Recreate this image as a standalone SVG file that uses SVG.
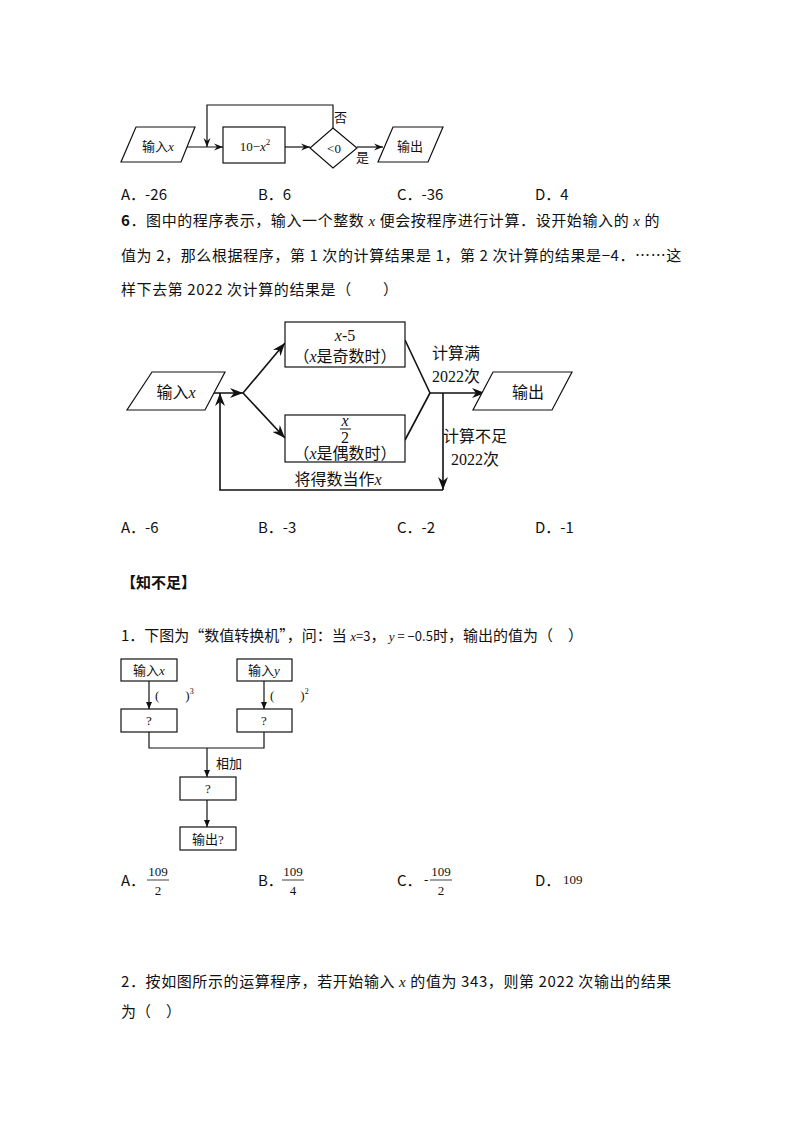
<svg xmlns="http://www.w3.org/2000/svg" width="794" height="1123" viewBox="0 0 794 1123">
<defs>
<style>
.t{font-family:"Noto Sans CJK SC","Liberation Sans",sans-serif;font-size:15px;fill:#111}
.w{letter-spacing:0.6px}
.b{font-weight:bold}
.d{font-family:"Liberation Serif","Noto Sans CJK SC",serif;font-size:16px;fill:#111}
.s{font-family:"Liberation Serif","Noto Sans CJK SC",serif;font-size:13px;fill:#111}
.i{font-style:italic}
.sh{fill:#fff;stroke:#111;stroke-width:1.2}
.ln{fill:none;stroke:#111;stroke-width:1.2}
.ln2{fill:none;stroke:#111;stroke-width:1.6}
</style>
<marker id="a" markerWidth="10" markerHeight="8" refX="9" refY="4" orient="auto" markerUnits="userSpaceOnUse"><path d="M0,0.5 L9,4 L0,7.5 L3,4 Z" fill="#111"/></marker>
<marker id="a2" markerWidth="14" markerHeight="10" refX="13" refY="5" orient="auto" markerUnits="userSpaceOnUse"><path d="M0,0 L13,5 L0,10 L4,5 Z" fill="#111"/></marker>
<marker id="a3" markerWidth="8" markerHeight="8" refX="7" refY="4" orient="auto" markerUnits="userSpaceOnUse"><path d="M0,1 L7,4 L0,7 Z" fill="#111"/></marker>
</defs>
<rect width="794" height="1123" fill="#fff"/>

<!-- diagram 1 -->
<g id="d1-connectors">
<line class="ln" x1="181" y1="147" x2="223" y2="147" marker-end="url(#a)"/>
<line class="ln" x1="285" y1="147" x2="310" y2="147" marker-end="url(#a)"/>
<line class="ln" x1="357" y1="147" x2="383" y2="147" marker-end="url(#a)"/>
<polyline class="ln" points="333,128 333,105 207,105 207,147" marker-end="url(#a)"/>
<text class="s" x="334" y="122" font-size="15">否</text>
<text class="s" x="356" y="162" font-size="15">是</text>
</g>
<g id="d1-in"><polygon class="sh" points="136,127 195,127 181,162 121,162"/><text class="s" x="158" y="151" font-size="15" text-anchor="middle">输入<tspan class="i">x</tspan></text></g>
<g id="d1-calc"><rect class="sh" x="223" y="127" width="62" height="36"/><text class="s" x="255" y="151" font-size="15" text-anchor="middle">10−<tspan class="i">x</tspan><tspan font-size="9" dy="-6">2</tspan></text></g>
<g id="d1-dec"><polygon class="sh" points="333,128 357,148 333,168 310,148"/><text class="s" x="334" y="153" font-size="15" text-anchor="middle">&lt;0</text></g>
<g id="d1-out"><polygon class="sh" points="393,127 443,127 428,162 378,162"/><text class="s" x="410" y="151" font-size="15" text-anchor="middle">输出</text></g>

<text class="t" x="121" y="200">A．-26</text>
<text class="t" x="258" y="200">B．6</text>
<text class="t" x="397" y="200">C．-36</text>
<text class="t" x="535" y="200">D．4</text>

<text class="t w" x="121" y="226"><tspan class="b">6</tspan>．图中的程序表示，输入一个整数 <tspan font-family="Liberation Serif" font-style="italic">x</tspan> 便会按程序进行计算．设开始输入的 <tspan font-family="Liberation Serif" font-style="italic">x</tspan> 的</text>
<text class="t w" x="121" y="261">值为 2，那么根据程序，第 1 次的计算结果是 1，第 2 次计算的结果是−4．……这</text>
<text class="t w" x="121" y="295">样下去第 2022 次计算的结果是（　　）</text>

<!-- diagram 2 -->
<g id="d2-connectors">
<line class="ln2" x1="205" y1="393" x2="243" y2="393" marker-end="url(#a2)"/>
<line class="ln2" x1="243" y1="393" x2="285" y2="343" marker-end="url(#a2)"/>
<line class="ln2" x1="243" y1="393" x2="285" y2="438" marker-end="url(#a2)"/>
<line class="ln2" x1="405" y1="340" x2="430" y2="393"/>
<line class="ln2" x1="405" y1="440" x2="430" y2="393"/>
<line class="ln2" x1="430" y1="393" x2="485" y2="393" marker-end="url(#a2)"/>
<line class="ln2" x1="443" y1="393" x2="443" y2="490" marker-end="url(#a2)"/>
<polyline class="ln2" points="443,490 220,490 220,393" marker-end="url(#a2)"/>
<text class="d" x="456" y="359" text-anchor="middle">计算满</text>
<text class="d" x="456" y="382" text-anchor="middle">2022次</text>
<text class="d" x="475" y="442" text-anchor="middle">计算不足</text>
<text class="d" x="475" y="465" text-anchor="middle">2022次</text>
<text class="d" x="338" y="485" text-anchor="middle">将得数当作<tspan class="i">x</tspan></text>
</g>
<g id="d2-in"><polygon class="sh" points="152,372 225,372 205,410 127,410"/><text class="d" x="176" y="398" text-anchor="middle">输入<tspan class="i">x</tspan></text></g>
<g id="d2-odd"><rect class="sh" x="285" y="322" width="120" height="45"/><text class="d" x="345" y="341" text-anchor="middle"><tspan class="i">x</tspan>-5</text><text class="d" x="345" y="362" text-anchor="middle">（<tspan class="i">x</tspan>是奇数时）</text></g>
<g id="d2-even"><rect class="sh" x="285" y="415" width="120" height="47"/><text class="d" x="345" y="426" text-anchor="middle" font-style="italic">x</text><line x1="340" y1="429" x2="351" y2="429" stroke="#111" stroke-width="1"/><text class="d" x="345" y="443" text-anchor="middle">2</text><text class="d" x="345" y="459" text-anchor="middle">（<tspan class="i">x</tspan>是偶数时）</text></g>
<g id="d2-out"><polygon class="sh" points="493,372 572,372 552,410 473,410"/><text class="d" x="528" y="398" text-anchor="middle">输出</text></g>

<text class="t" x="121" y="533">A．-6</text>
<text class="t" x="258" y="533">B．-3</text>
<text class="t" x="397" y="533">C．-2</text>
<text class="t" x="535" y="533">D．-1</text>

<text class="t b" x="121" y="588" font-size="18">【知不足】</text>

<text class="t" x="121" y="641">1．下图为“数值转换机”，问：当 <tspan font-family="Liberation Serif" font-style="italic" font-size="13">x</tspan><tspan font-size="13">=3</tspan>， <tspan font-family="Liberation Serif" font-style="italic" font-size="13">y</tspan><tspan font-size="13"> = −0.5</tspan>时，输出的值为（　）</text>

<!-- diagram 3 -->
<g id="d3-connectors">
<line class="ln" x1="149" y1="681" x2="149" y2="709" marker-end="url(#a3)"/>
<line class="ln" x1="264" y1="681" x2="264" y2="709" marker-end="url(#a3)"/>
<polyline class="ln" points="149,732 149,748 264,748 264,732"/>
<line class="ln" x1="207" y1="748" x2="207" y2="777" marker-end="url(#a3)"/>
<line class="ln" x1="207" y1="800" x2="207" y2="827" marker-end="url(#a3)"/>
<text class="s" x="155" y="700">(　　)<tspan font-size="8" dy="-6">3</tspan></text>
<text class="s" x="270" y="700">(　　)<tspan font-size="8" dy="-6">2</tspan></text>
<text class="s" x="216" y="768">相加</text>
</g>
<g id="d3-inx"><rect class="sh" x="121" y="659" width="56" height="22"/><text class="s" x="149" y="675" text-anchor="middle">输入<tspan class="i">x</tspan></text></g>
<g id="d3-iny"><rect class="sh" x="237" y="659" width="55" height="22"/><text class="s" x="264" y="675" text-anchor="middle">输入<tspan class="i">y</tspan></text></g>
<g id="d3-q1"><rect class="sh" x="121" y="709" width="56" height="23"/><text class="s" x="149" y="725" text-anchor="middle">?</text></g>
<g id="d3-q2"><rect class="sh" x="237" y="709" width="55" height="23"/><text class="s" x="264" y="725" text-anchor="middle">?</text></g>
<g id="d3-q3"><rect class="sh" x="180" y="777" width="56" height="23"/><text class="s" x="208" y="793" text-anchor="middle">?</text></g>
<g id="d3-out"><rect class="sh" x="180" y="827" width="56" height="23"/><text class="s" x="208" y="844" text-anchor="middle">输出?</text></g>

<text class="t" x="121" y="886">A．</text>
<text class="s" x="158" y="876" text-anchor="middle">109</text><line x1="147" y1="880" x2="169" y2="880" stroke="#111" stroke-width="0.8"/><text class="s" x="158" y="895" text-anchor="middle">2</text>
<text class="t" x="258" y="886">B．</text>
<text class="s" x="293" y="876" text-anchor="middle">109</text><line x1="282" y1="880" x2="304" y2="880" stroke="#111" stroke-width="0.8"/><text class="s" x="293" y="895" text-anchor="middle">4</text>
<text class="t" x="397" y="886">C．</text>
<text class="s" x="424" y="884">-</text>
<text class="s" x="441" y="876" text-anchor="middle">109</text><line x1="430" y1="880" x2="452" y2="880" stroke="#111" stroke-width="0.8"/><text class="s" x="441" y="895" text-anchor="middle">2</text>
<text class="t" x="535" y="886">D．</text>
<text class="s" x="563" y="884">109</text>

<text class="t w" x="121" y="987">2．按如图所示的运算程序，若开始输入 <tspan font-family="Liberation Serif" font-style="italic">x</tspan> 的值为 343，则第 2022 次输出的结果</text>
<text class="t" x="121" y="1017">为（　）</text>
</svg>
